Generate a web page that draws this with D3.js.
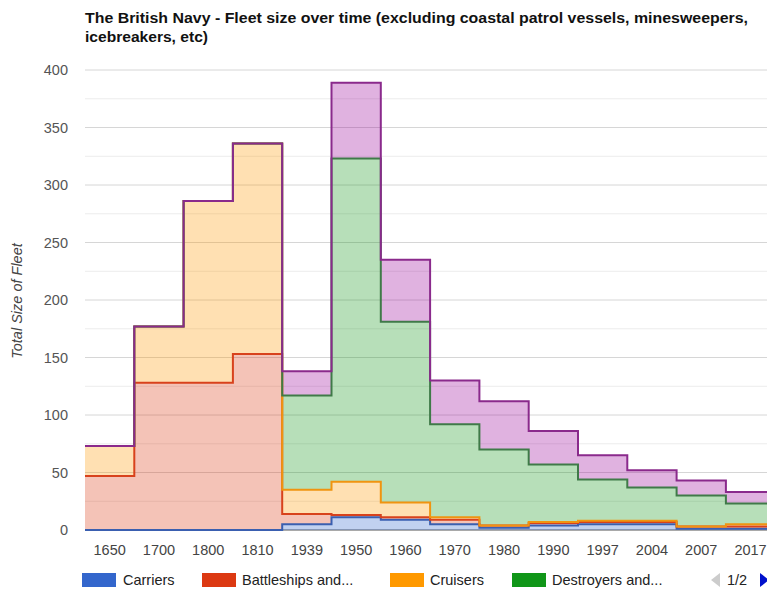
<!DOCTYPE html>
<html>
<head>
<meta charset="utf-8">
<script src="https://cdn.jsdelivr.net/npm/d3@7"></script>
<style>
  html, body { margin: 0; padding: 0; background: #fff; }
  svg { display: block; font-family: Arial, "Liberation Sans", sans-serif; }
</style>
</head>
<body>
<div id="chart"></div>
<script>
// ---- data ----
const categories = ["1650","1700","1800","1810","1939","1950","1960","1970","1980","1990","1997","2004","2007","2017"];
const seriesNames = ["Carriers","Battleships and...","Cruisers","Destroyers and...","Submarines"];
const carriers    = [0, 0, 0, 0, 5, 11, 9, 5, 2, 4, 5, 5, 1, 1];
const battleships = [47, 128, 128, 153, 9, 2, 2, 4, 2, 2, 2, 2, 2, 2];
const cruisers    = [26, 49, 158, 183, 21, 29, 13, 2, 0, 1, 1, 1, 0, 2];
const destroyers  = [0, 0, 0, 0, 82, 281, 157, 81, 66, 50, 36, 29, 27, 18];
const submarines  = [0, 0, 0, 0, 21, 66, 54, 38, 42, 29, 21, 15, 13, 10];
const yTicks = [0, 50, 100, 150, 200, 250, 300, 350, 400];
const titleLines = ["The British Navy - Fleet size over time (excluding coastal patrol vessels, minesweepers,", "icebreakers, etc)"];
const yAxisTitle = "Total Size of Fleet";

const colors = ["#3366cc", "#dc3912", "#ff9900", "#109618", "#990099"];
const lineColors = ["#3a5fb0", "#d8421c", "#f09410", "#3f7a48", "#8a2a8c"];

// ---- layout ----
const W = 767, H = 590;
const plotLeft = 85, plotTop = 70, plotBottom = 530;
const stepW = 49.3;
const plotRight = plotLeft + stepW * categories.length;
const FS = 14.5;

const svg = d3.select("#chart").append("svg").attr("width", W).attr("height", H);

const x = d3.scaleBand().domain(categories).range([plotLeft, plotRight]).padding(0);
const y = d3.scaleLinear().domain([0, 400]).range([plotBottom, plotTop]);

// gridlines
const minor = d3.range(25, 400, 50);
svg.append("g").selectAll("line").data(minor).join("line")
  .attr("x1", plotLeft).attr("x2", W).attr("y1", d => y(d)).attr("y2", d => y(d))
  .attr("stroke", "#ececec").attr("stroke-width", 1);
svg.append("g").selectAll("line").data(yTicks.filter(d => d > 0)).join("line")
  .attr("x1", plotLeft).attr("x2", W).attr("y1", d => y(d)).attr("y2", d => y(d))
  .attr("stroke", "#d6d6d6").attr("stroke-width", 1);

// stack
const rows = categories.map((c, i) => ({
  cat: c, s0: carriers[i], s1: battleships[i], s2: cruisers[i], s3: destroyers[i], s4: submarines[i]
}));
const stacked = d3.stack().keys(["s0","s1","s2","s3","s4"])(rows);

const stepPoints = layer => {
  const pts = [];
  layer.forEach(d => {
    pts.push({ x: x(d.data.cat), d });
    pts.push({ x: x(d.data.cat) + x.bandwidth(), d });
  });
  return pts;
};

const area = d3.area().x(p => p.x).y0(p => y(p.d[0])).y1(p => y(p.d[1]));
const line = d3.line().x(p => p.x).y(p => y(p.d[1]));

// baseline
svg.append("line").attr("x1", plotLeft).attr("x2", W).attr("y1", y(0)).attr("y2", y(0))
  .attr("stroke", "#555").attr("stroke-width", 1);

const gA = svg.append("g");
stacked.forEach((layer, i) => {
  gA.append("path").attr("d", area(stepPoints(layer)))
    .attr("fill", colors[i]).attr("fill-opacity", 0.3).attr("stroke", "none");
});
const gL = svg.append("g");
stacked.forEach((layer, i) => {
  gL.append("path").attr("d", line(stepPoints(layer)))
    .attr("fill", "none").attr("stroke", lineColors[i]).attr("stroke-width", 2)
    .attr("stroke-linejoin", "miter");
});

// y tick labels
svg.append("g").selectAll("text").data(yTicks).join("text")
  .attr("x", 68).attr("y", d => y(d) + 5)
  .attr("text-anchor", "end").attr("font-size", FS).attr("fill", "#555")
  .text(d => d);

// x labels
svg.append("g").selectAll("text").data(categories).join("text")
  .attr("x", d => x(d) + x.bandwidth() / 2).attr("y", 555)
  .attr("text-anchor", "middle").attr("font-size", FS).attr("fill", "#444")
  .text(d => d);

// y axis title
svg.append("text")
  .attr("transform", `translate(22,${(plotTop + plotBottom) / 2 + 1}) rotate(-90)`)
  .attr("text-anchor", "middle").attr("font-size", FS).attr("font-style", "italic")
  .attr("fill", "#444").text(yAxisTitle);

// title
const titleWidths = [663, 123];
svg.append("g").selectAll("text").data(titleLines).join("text")
  .attr("x", plotLeft).attr("y", (d, i) => 23 + i * 19)
  .attr("font-size", 14).attr("font-weight", "bold").attr("fill", "#111")
  .attr("textLength", (d, i) => titleWidths[i]).attr("lengthAdjust", "spacingAndGlyphs")
  .text(d => d);

// legend
const legendItems = [
  { name: seriesNames[0], color: colors[0], rx: 82, tx: 123 },
  { name: seriesNames[1], color: colors[1], rx: 202, tx: 242 },
  { name: seriesNames[2], color: colors[2], rx: 390, tx: 430 },
  { name: seriesNames[3], color: colors[3], rx: 512, tx: 552 }
];
const lg = svg.append("g");
legendItems.forEach(it => {
  lg.append("rect").attr("x", it.rx).attr("y", 573).attr("width", 34).attr("height", 14).attr("fill", it.color);
  lg.append("text").attr("x", it.tx).attr("y", 585).attr("font-size", FS).attr("fill", "#222").text(it.name);
});
lg.append("path").attr("d", "M720,573 L720,587 L711,580 Z").attr("fill", "#ccc");
lg.append("text").attr("x", 727).attr("y", 585).attr("font-size", FS).attr("fill", "#222").text("1/2");
lg.append("path").attr("d", "M760,573 L760,587 L769,580 Z").attr("fill", "#0011cc");
</script>
</body>
</html>
